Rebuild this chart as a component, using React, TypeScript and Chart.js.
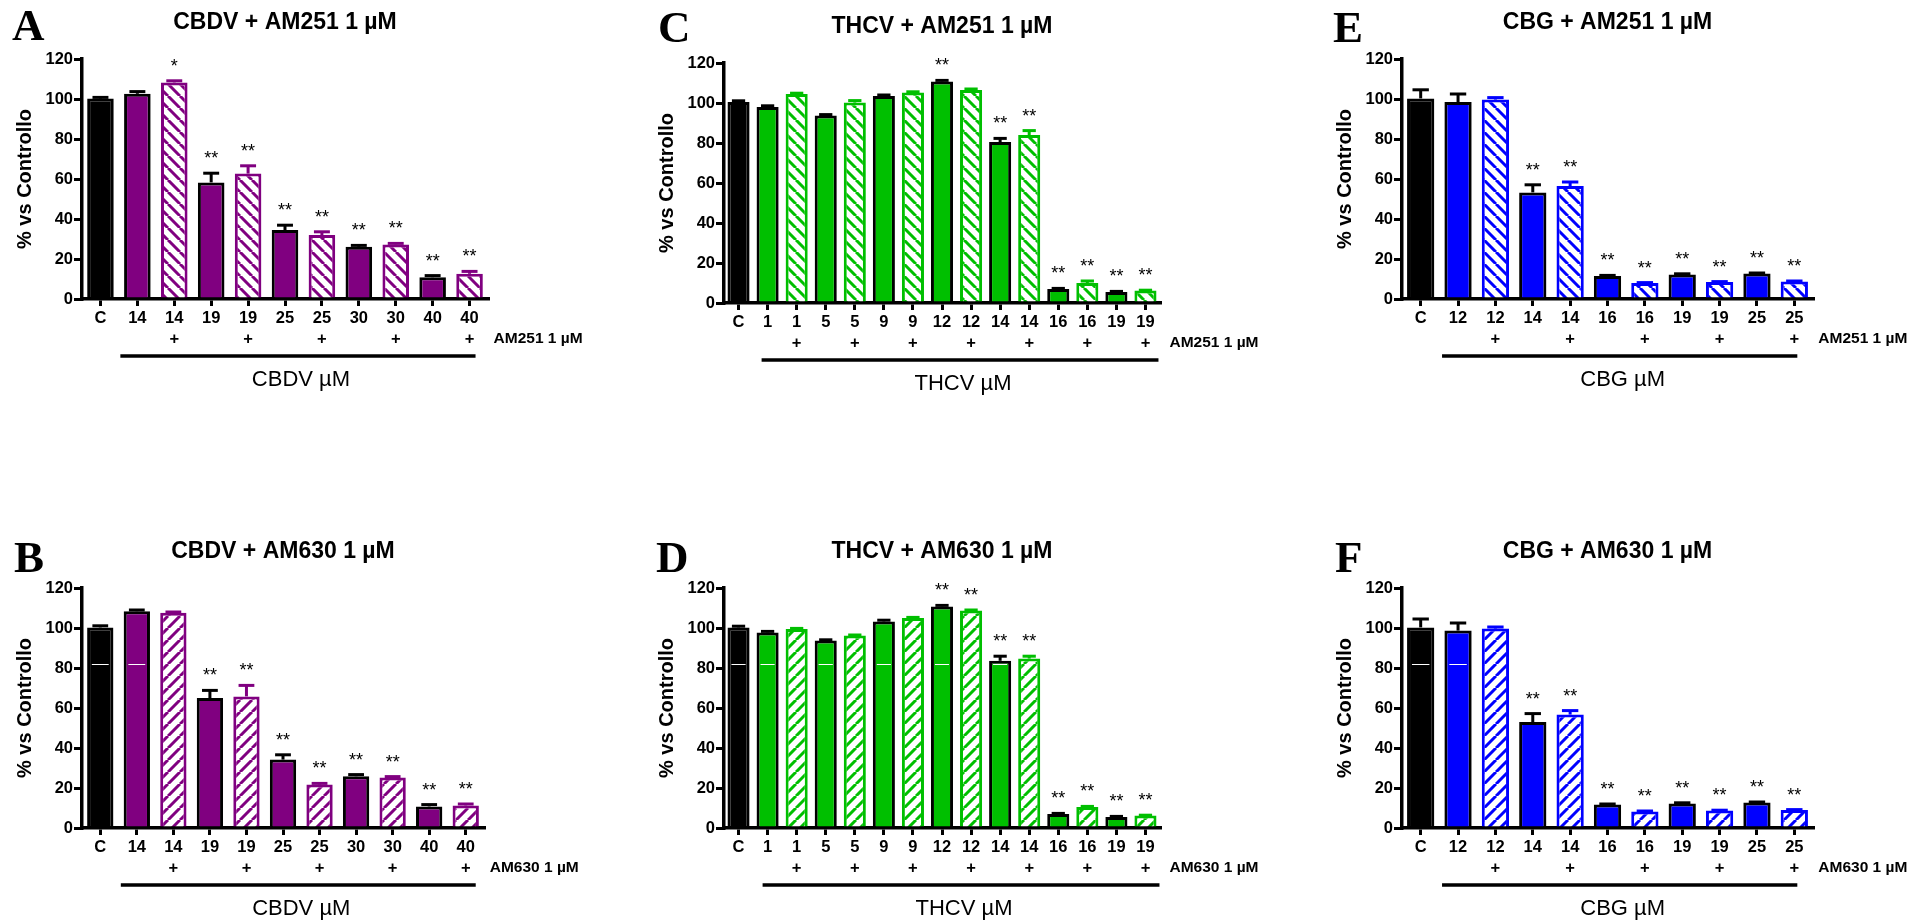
import React, { useEffect, useRef } from 'react';
import { Chart, registerables } from 'chart.js';

Chart.register(...registerables);

const FONT = '"Liberation Sans", Arial, Helvetica, sans-serif';
const SERIF = '"Liberation Serif", "Times New Roman", serif';

// ---------------- data ----------------
const yMin = 0;
const yMax = 120;
const yStep = 20;
const artifactLevel = 82;

const cbdvDoses = ['C', '14', '14', '19', '19', '25', '25', '30', '30', '40', '40'];
const cbdvWithAntagonist = [false, false, true, false, true, false, true, false, true, false, true];

const cbdvAm251Values = [100.2, 102.6, 108.3, 58.3, 62.7, 34.5, 32.0, 26.1, 27.3, 10.9, 12.6];
const cbdvAm251Errors = [0.6, 1.1, 0.8, 4.6, 3.9, 2.4, 1.6, 0.7, 0.5, 0.8, 1.2];
const cbdvAm251Stars = ['', '', '*', '**', '**', '**', '**', '**', '**', '**', '**'];

const cbdvAm630Values = [100.3, 108.4, 107.6, 65.0, 65.8, 34.2, 21.7, 25.9, 25.3, 10.8, 11.3];
const cbdvAm630Errors = [0.8, 0.6, 0.4, 3.8, 5.5, 2.4, 0.6, 0.8, 0.4, 0.9, 0.7];
const cbdvAm630Stars = ['', '', '', '**', '**', '**', '**', '**', '**', '**', '**'];

const thcvDoses = ['C', '1', '1', '5', '5', '9', '9', '12', '12', '14', '14', '16', '16', '19', '19'];
const thcvWithAntagonist = [false, false, true, false, true, false, true, false, true, false, true, false, true, false, true];

const thcvAm251Values = [100.5, 98.0, 104.5, 93.8, 100.2, 103.5, 105.3, 110.8, 106.5, 80.5, 84.0, 7.0, 10.0, 5.5, 6.2];
const thcvAm251Errors = [0.6, 0.6, 0.4, 0.4, 1.0, 0.5, 0.3, 0.5, 0.5, 1.8, 2.2, 0.3, 1.0, 0.3, 0.2];
const thcvAm251Stars = ['', '', '', '', '', '', '', '**', '', '**', '**', '**', '**', '**', '**'];

const thcvAm630Values = [100.3, 97.8, 99.5, 93.7, 96.2, 103.3, 105.0, 110.8, 108.7, 83.6, 84.7, 7.0, 10.5, 5.5, 6.2];
const thcvAm630Errors = [0.6, 0.5, 0.3, 0.4, 0.3, 0.6, 0.3, 0.5, 0.3, 2.3, 1.2, 0.3, 0.3, 0.3, 0.2];
const thcvAm630Stars = ['', '', '', '', '', '', '', '**', '**', '**', '**', '**', '**', '**', '**'];

const cbgDoses = ['C', '12', '12', '14', '14', '16', '16', '19', '19', '25', '25'];
const cbgWithAntagonist = [false, false, true, false, true, false, true, false, true, false, true];

const cbgAm251Values = [100.3, 98.5, 99.7, 53.3, 56.5, 11.5, 8.0, 12.3, 8.5, 12.7, 8.8];
const cbgAm251Errors = [4.3, 4.0, 1.0, 3.8, 2.0, 0.3, 0.2, 0.3, 0.2, 0.3, 0.2];
const cbgAm251Stars = ['', '', '', '**', '**', '**', '**', '**', '**', '**', '**'];

const cbgAm630Values = [100.3, 98.7, 99.7, 53.0, 56.7, 11.7, 8.3, 12.3, 8.7, 12.7, 9.0];
const cbgAm630Errors = [4.2, 3.8, 0.8, 4.2, 2.0, 0.3, 0.2, 0.3, 0.2, 0.3, 0.2];
const cbgAm630Stars = ['', '', '', '**', '**', '**', '**', '**', '**', '**', '**'];

// ---------------- styling / layout ----------------
const PURPLE = '#800080';
const GREEN = '#00bf00';
const BLUE = '#0000ff';

type Panel = {
  letter: string;
  title: string;
  drugLabel: string;
  antagonistLabel: string;
  doses: string[];
  withAntagonist: boolean[];
  values: number[];
  errors: number[];
  stars: string[];
  color: string;
  hatchDir: 'back' | 'fwd';
  artifact: boolean;
  box: { x: number; y: number; w: number; h: number };
  area: { l: number; t: number; r: number; b: number };
  letterPos: { x: number; y: number };
  barPct: number;
  line: { start: number; end: number };
};

const panels: Panel[] = [
  {
    letter: 'A', title: 'CBDV + AM251 1 \u00b5M', drugLabel: 'CBDV \u00b5M', antagonistLabel: 'AM251 1 \u00b5M',
    doses: cbdvDoses, withAntagonist: cbdvWithAntagonist, values: cbdvAm251Values, errors: cbdvAm251Errors, stars: cbdvAm251Stars,
    color: PURPLE, hatchDir: 'back', artifact: false,
    box: { x: 0, y: 0, w: 640, h: 460 }, area: { l: 82, t: 59, r: 488, b: 299 },
    letterPos: { x: 12, y: 40 }, barPct: 0.72, line: { start: -17, end: 6 },
  },
  {
    letter: 'B', title: 'CBDV + AM630 1 \u00b5M', drugLabel: 'CBDV \u00b5M', antagonistLabel: 'AM630 1 \u00b5M',
    doses: cbdvDoses, withAntagonist: cbdvWithAntagonist, values: cbdvAm630Values, errors: cbdvAm630Errors, stars: cbdvAm630Stars,
    color: PURPLE, hatchDir: 'fwd', artifact: true,
    box: { x: 0, y: 460, w: 640, h: 461 }, area: { l: 82, t: 128, r: 484, b: 368 },
    letterPos: { x: 14, y: 112 }, barPct: 0.72, line: { start: -16, end: 10 },
  },
  {
    letter: 'C', title: 'THCV + AM251 1 \u00b5M', drugLabel: 'THCV \u00b5M', antagonistLabel: 'AM251 1 \u00b5M',
    doses: thcvDoses, withAntagonist: thcvWithAntagonist, values: thcvAm251Values, errors: thcvAm251Errors, stars: thcvAm251Stars,
    color: GREEN, hatchDir: 'back', artifact: false,
    box: { x: 640, y: 0, w: 640, h: 460 }, area: { l: 84, t: 63, r: 520, b: 303 },
    letterPos: { x: 18, y: 42 }, barPct: 0.76, line: { start: -6, end: 13 },
  },
  {
    letter: 'D', title: 'THCV + AM630 1 \u00b5M', drugLabel: 'THCV \u00b5M', antagonistLabel: 'AM630 1 \u00b5M',
    doses: thcvDoses, withAntagonist: thcvWithAntagonist, values: thcvAm630Values, errors: thcvAm630Errors, stars: thcvAm630Stars,
    color: GREEN, hatchDir: 'fwd', artifact: true,
    box: { x: 640, y: 460, w: 640, h: 461 }, area: { l: 84, t: 128, r: 520, b: 368 },
    letterPos: { x: 16, y: 112 }, barPct: 0.76, line: { start: -5, end: 14 },
  },
  {
    letter: 'E', title: 'CBG + AM251 1 \u00b5M', drugLabel: 'CBG \u00b5M', antagonistLabel: 'AM251 1 \u00b5M',
    doses: cbgDoses, withAntagonist: cbgWithAntagonist, values: cbgAm251Values, errors: cbgAm251Errors, stars: cbgAm251Stars,
    color: BLUE, hatchDir: 'back', artifact: false,
    box: { x: 1280, y: 0, w: 634, h: 460 }, area: { l: 122, t: 59, r: 533, b: 299 },
    letterPos: { x: 53, y: 42 }, barPct: 0.73, line: { start: -16, end: 3 },
  },
  {
    letter: 'F', title: 'CBG + AM630 1 \u00b5M', drugLabel: 'CBG \u00b5M', antagonistLabel: 'AM630 1 \u00b5M',
    doses: cbgDoses, withAntagonist: cbgWithAntagonist, values: cbgAm630Values, errors: cbgAm630Errors, stars: cbgAm630Stars,
    color: BLUE, hatchDir: 'fwd', artifact: true,
    box: { x: 1280, y: 460, w: 634, h: 461 }, area: { l: 122, t: 128, r: 533, b: 368 },
    letterPos: { x: 55, y: 112 }, barPct: 0.73, line: { start: -16, end: 3 },
  },
];

function makeHatch(color: string, dir: 'back' | 'fwd'): CanvasPattern | string {
  const s = 12;
  const c = document.createElement('canvas');
  c.width = s;
  c.height = s;
  const g = c.getContext('2d');
  if (!g) return '#fff';
  g.fillStyle = '#ffffff';
  g.fillRect(0, 0, s, s);
  g.strokeStyle = color;
  g.lineWidth = 3;
  g.beginPath();
  for (const o of [-s, 0, s]) {
    if (dir === 'back') {
      g.moveTo(o, 0);
      g.lineTo(o + s, s);
    } else {
      g.moveTo(o, s);
      g.lineTo(o + s, 0);
    }
  }
  g.stroke();
  return g.createPattern(c, 'repeat') || '#fff';
}

function makeAnnotPlugin(p: Panel) {
  return {
    id: 'annot' + p.letter,
    afterDatasetsDraw(chart: any) {
      const ctx = chart.ctx as CanvasRenderingContext2D;
      const meta = chart.getDatasetMeta(0);
      const ys = chart.scales.y;
      ctx.save();
      meta.data.forEach((el: any, i: number) => {
        const v = p.values[i];
        const e = p.errors[i];
        const hatched = p.withAntagonist[i];
        const col = hatched ? p.color : '#000';
        const yTop = ys.getPixelForValue(v);
        const yErr = ys.getPixelForValue(v + e);
        const w = el.width;
        ctx.strokeStyle = col;
        ctx.lineWidth = 3;
        ctx.lineCap = 'butt';
        ctx.beginPath();
        ctx.moveTo(el.x, yTop);
        ctx.lineTo(el.x, yErr);
        ctx.stroke();
        ctx.beginPath();
        ctx.moveTo(el.x - w * 0.3, yErr);
        ctx.lineTo(el.x + w * 0.3, yErr);
        ctx.stroke();
        if (p.artifact && !hatched && v > artifactLevel) {
          const ya = Math.round(ys.getPixelForValue(artifactLevel)) + 0.5;
          ctx.strokeStyle = '#fff';
          ctx.lineWidth = 1;
          ctx.beginPath();
          ctx.moveTo(el.x - w * 0.32, ya);
          ctx.lineTo(el.x + w * 0.32, ya);
          ctx.stroke();
        }
        if (p.stars[i]) {
          ctx.fillStyle = '#000';
          ctx.font = '18px ' + FONT;
          ctx.textAlign = 'center';
          ctx.textBaseline = 'alphabetic';
          ctx.fillText(p.stars[i], el.x, yErr - 9);
        }
      });
      ctx.restore();
    },
    afterDraw(chart: any) {
      const ctx = chart.ctx as CanvasRenderingContext2D;
      const ca = chart.chartArea;
      const xs = chart.scales.x;
      const last = p.doses.length - 1;
      ctx.save();
      // title
      ctx.fillStyle = '#000';
      ctx.font = 'bold 23px ' + FONT;
      ctx.textAlign = 'center';
      ctx.textBaseline = 'middle';
      ctx.fillText(p.title, (ca.left + ca.right) / 2, ca.top - 36);
      // panel letter
      ctx.font = 'bold 45px ' + SERIF;
      ctx.textAlign = 'left';
      ctx.textBaseline = 'alphabetic';
      ctx.fillText(p.letter, p.letterPos.x, p.letterPos.y);
      // antagonist label
      ctx.font = 'bold 15.5px ' + FONT;
      ctx.textBaseline = 'middle';
      ctx.fillText(p.antagonistLabel, xs.getPixelForValue(last) + 24, ca.bottom + 40);
      // bracket line
      const x0 = xs.getPixelForValue(1) + p.line.start;
      const x1 = xs.getPixelForValue(last) + p.line.end;
      ctx.strokeStyle = '#000';
      ctx.lineWidth = 3.5;
      ctx.beginPath();
      ctx.moveTo(x0, ca.bottom + 57);
      ctx.lineTo(x1, ca.bottom + 57);
      ctx.stroke();
      // drug label
      ctx.font = '22px ' + FONT;
      ctx.textAlign = 'center';
      ctx.fillText(p.drugLabel, (x0 + x1) / 2 + 3, ca.bottom + 81);
      ctx.restore();
    },
  };
}

function PanelChart({ p }: { p: Panel }) {
  const ref = useRef<HTMLCanvasElement>(null);
  useEffect(() => {
    const canvas = ref.current;
    if (!canvas) return;
    const hatch = makeHatch(p.color, p.hatchDir);
    const labels = p.doses.map((d, i) => (p.withAntagonist[i] ? [d, '+'] : [d]));
    const bg = p.values.map((_, i) => (i === 0 ? '#000' : p.withAntagonist[i] ? hatch : p.color));
    const bc = p.values.map((_, i) => (p.withAntagonist[i] ? p.color : '#000'));
    const tickFont = { family: FONT, size: 16.5, weight: 'bold' as const, lineHeight: 21 / 16.5 };
    const chart = new Chart(canvas, {
      type: 'bar',
      data: {
        labels,
        datasets: [
          {
            data: p.values,
            backgroundColor: bg as any,
            borderColor: bc,
            borderWidth: 3,
            borderSkipped: 'start',
            barPercentage: p.barPct,
            categoryPercentage: 1,
          },
        ],
      },
      options: {
        animation: false,
        responsive: true,
        maintainAspectRatio: false,
        events: [],
        layout: {
          padding: {
            left: p.area.l - 82,
            top: p.area.t,
            right: p.box.w - p.area.r,
            bottom: p.box.h - p.area.b - 60,
          },
        },
        plugins: { legend: { display: false }, tooltip: { enabled: false }, title: { display: false } },
        scales: {
          x: {
            type: 'category',
            offset: true,
            z: 1,
            grid: { display: true, drawOnChartArea: false, drawTicks: true, tickLength: 7, lineWidth: 3, color: '#000', offset: false },
            border: { display: true, color: '#000', width: 3.5 },
            ticks: { color: '#000', font: tickFont, padding: 1.5, autoSkip: false, maxRotation: 0, minRotation: 0 },
            afterFit: (s: any) => {
              s.height = 60;
            },
          },
          y: {
            min: yMin,
            max: yMax,
            z: 1,
            ticks: { stepSize: yStep, color: '#000', font: { family: FONT, size: 16.5, weight: 'bold' }, padding: 1 },
            grid: { display: true, drawOnChartArea: false, drawTicks: true, tickLength: 8, lineWidth: 3, color: '#000' },
            border: { display: true, color: '#000', width: 3.5 },
            title: {
              display: true,
              text: '% vs Controllo',
              color: '#000',
              font: { family: FONT, size: 20, weight: 'bold', lineHeight: 1.2 },
              padding: { top: 13, bottom: 0 },
            },
            afterFit: (s: any) => {
              s.width = 82;
            },
          },
        },
      } as any,
      plugins: [makeAnnotPlugin(p)],
    });
    return () => chart.destroy();
  }, [p]);
  return (
    <div style={{ position: 'absolute', left: p.box.x, top: p.box.y, width: p.box.w, height: p.box.h }}>
      <canvas ref={ref} />
    </div>
  );
}

export default function App() {
  return (
    <div style={{ position: 'absolute', left: 0, top: 0, width: 1914, height: 921, overflow: 'hidden', background: '#fff' }}>
      {panels.map((p) => (
        <PanelChart key={p.letter} p={p} />
      ))}
    </div>
  );
}
